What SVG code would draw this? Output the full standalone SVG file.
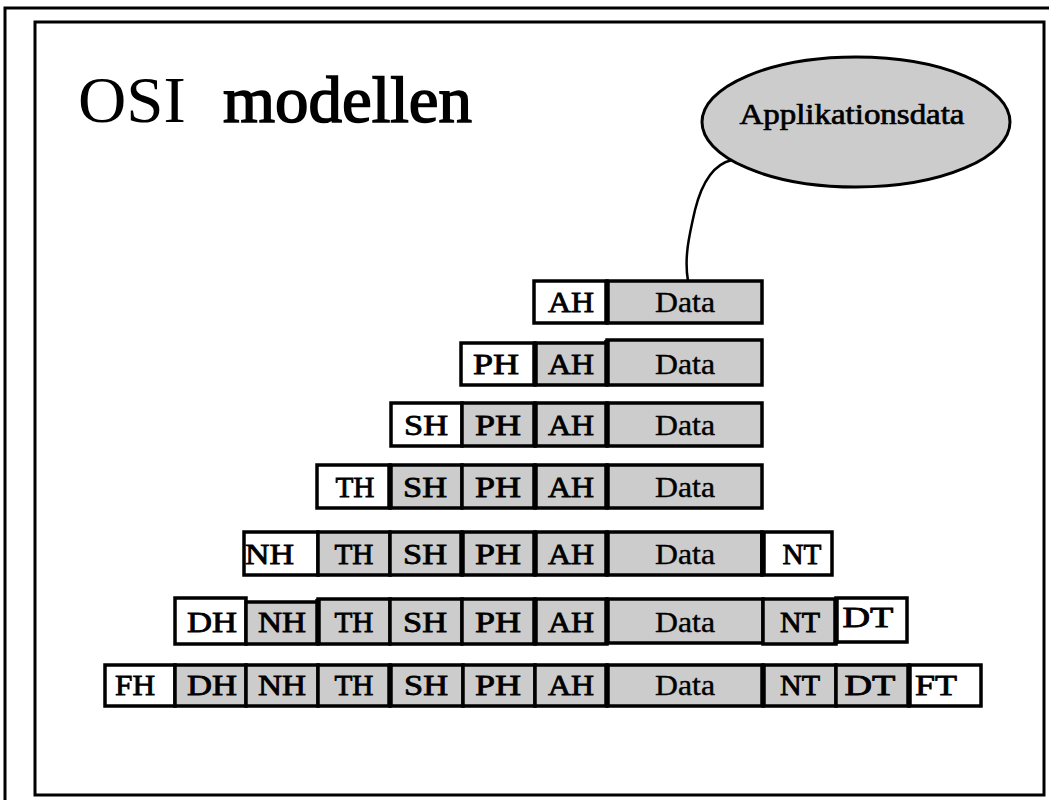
<svg xmlns="http://www.w3.org/2000/svg" width="1049" height="800" viewBox="0 0 1049 800">
  <style>
    .frame { fill: none; stroke: #000; stroke-width: 3; }
    .w { fill: #ffffff; stroke: #000; stroke-width: 3.5; }
    .g { fill: #cccccc; stroke: #000; stroke-width: 3.5; }
    .thick { fill: none; stroke: #000; stroke-width: 5.5; }
    .lbl { font-family: "Liberation Serif", "Times New Roman", serif; font-size: 29px; text-anchor: middle; fill: #000; stroke: #000; stroke-width: 0.8; }
    .lbl-l { font-family: "Liberation Serif", "Times New Roman", serif; font-size: 29px; text-anchor: start; fill: #000; stroke: #000; stroke-width: 0.8; }
    .data { stroke-width: 0.4; }
    .title { font-family: "Liberation Serif", "Times New Roman", serif; font-size: 65px; fill: #000; }
    .heavy { stroke: #000; stroke-width: 1.6; }
    .bubble-text { font-family: "Liberation Serif", "Times New Roman", serif; font-size: 29px; text-anchor: middle; fill: #000; stroke: #000; stroke-width: 0.7; }
    .wire { fill: none; stroke: #000; stroke-width: 2.5; }
  </style>

  <rect width="1049" height="800" fill="#ffffff"/>

  <!-- slide frames -->
  <rect class="frame" x="5" y="8" width="1060" height="810"/>
  <rect class="frame" x="35" y="22" width="1009" height="773"/>

  <!-- title -->
  <text class="title" x="78" y="122" textLength="394" lengthAdjust="spacingAndGlyphs" word-spacing="20">OSI <tspan class="heavy">modellen</tspan></text>

  <!-- speech bubble -->
  <g id="applikationsdata">
    <ellipse cx="856" cy="122" rx="154" ry="65" fill="#cccccc" stroke="#000" stroke-width="3"/>
    <text class="bubble-text" x="852" y="124" textLength="225" lengthAdjust="spacingAndGlyphs">Applikationsdata</text>
  </g>

  <!-- connectors -->
  <g id="connectors">
    <path class="wire" d="M732,160 C714,164 702,182 695,210 C689,236 684,258 688,281"/>
  </g>

  <!-- layer 7: application -->
  <g id="row-application">
    <g id="r1-ah"><rect class="w" x="534" y="281" width="73" height="42"/><text class="lbl" x="571" y="312" textLength="46" lengthAdjust="spacingAndGlyphs">AH</text></g>
    <g id="r1-data"><rect class="g" x="607" y="281" width="155" height="42"/><text class="lbl data" x="685" y="312" textLength="60" lengthAdjust="spacingAndGlyphs">Data</text></g>
    <path class="thick" d="M607,281V323"/>
  </g>

  <!-- layer 6: presentation -->
  <g id="row-presentation">
    <g id="r2-ph"><rect class="w" x="461" y="343" width="74" height="42"/><text class="lbl" x="496" y="374" textLength="46" lengthAdjust="spacingAndGlyphs">PH</text></g>
    <g id="r2-ah"><rect class="g" x="535" y="343" width="72" height="42"/><text class="lbl" x="571" y="374" textLength="46" lengthAdjust="spacingAndGlyphs">AH</text></g>
    <g id="r2-data"><rect class="g" x="607" y="340" width="155" height="45"/><text class="lbl data" x="685" y="374" textLength="60" lengthAdjust="spacingAndGlyphs">Data</text></g>
    <path class="thick" d="M535,343V385 M607,340V385"/>
  </g>

  <!-- layer 5: session -->
  <g id="row-session">
    <g id="r3-sh"><rect class="w" x="391" y="403" width="71" height="43"/><text class="lbl" x="426" y="435" textLength="44" lengthAdjust="spacingAndGlyphs">SH</text></g>
    <g id="r3-ph"><rect class="g" x="462" y="403" width="73" height="43"/><text class="lbl" x="498" y="435" textLength="46" lengthAdjust="spacingAndGlyphs">PH</text></g>
    <g id="r3-ah"><rect class="g" x="535" y="403" width="72" height="43"/><text class="lbl" x="571" y="435" textLength="46" lengthAdjust="spacingAndGlyphs">AH</text></g>
    <g id="r3-data"><rect class="g" x="607" y="403" width="155" height="43"/><text class="lbl data" x="685" y="435" textLength="60" lengthAdjust="spacingAndGlyphs">Data</text></g>
    <path class="thick" d="M535,403V446 M607,403V446"/>
  </g>

  <!-- layer 4: transport -->
  <g id="row-transport">
    <g id="r4-th"><rect class="w" x="317" y="465" width="73" height="43"/><text class="lbl" x="355" y="497" textLength="39" lengthAdjust="spacingAndGlyphs">TH</text></g>
    <g id="r4-sh"><rect class="g" x="390" y="465" width="72" height="43"/><text class="lbl" x="425" y="497" textLength="44" lengthAdjust="spacingAndGlyphs">SH</text></g>
    <g id="r4-ph"><rect class="g" x="462" y="465" width="73" height="43"/><text class="lbl" x="498" y="497" textLength="46" lengthAdjust="spacingAndGlyphs">PH</text></g>
    <g id="r4-ah"><rect class="g" x="535" y="465" width="72" height="43"/><text class="lbl" x="571" y="497" textLength="46" lengthAdjust="spacingAndGlyphs">AH</text></g>
    <g id="r4-data"><rect class="g" x="607" y="465" width="155" height="43"/><text class="lbl data" x="685" y="497" textLength="60" lengthAdjust="spacingAndGlyphs">Data</text></g>
    <path class="thick" d="M390,465V508 M535,465V508 M607,465V508"/>
  </g>

  <!-- layer 3: network -->
  <g id="row-network">
    <g id="r5-nh"><rect class="w" x="244" y="532" width="74" height="43"/><text class="lbl-l" x="245" y="564" textLength="49" lengthAdjust="spacingAndGlyphs">NH</text></g>
    <g id="r5-th"><rect class="g" x="318" y="532" width="72" height="43"/><text class="lbl" x="354" y="564" textLength="39" lengthAdjust="spacingAndGlyphs">TH</text></g>
    <g id="r5-sh"><rect class="g" x="390" y="532" width="72" height="43"/><text class="lbl" x="425" y="564" textLength="44" lengthAdjust="spacingAndGlyphs">SH</text></g>
    <g id="r5-ph"><rect class="g" x="462" y="532" width="73" height="43"/><text class="lbl" x="498" y="564" textLength="46" lengthAdjust="spacingAndGlyphs">PH</text></g>
    <g id="r5-ah"><rect class="g" x="535" y="532" width="72" height="43"/><text class="lbl" x="571" y="564" textLength="46" lengthAdjust="spacingAndGlyphs">AH</text></g>
    <g id="r5-data"><rect class="g" x="607" y="532" width="155" height="43"/><text class="lbl data" x="685" y="564" textLength="60" lengthAdjust="spacingAndGlyphs">Data</text></g>
    <g id="r5-nt"><rect class="w" x="762" y="532" width="70" height="43"/><text class="lbl" x="802" y="564" textLength="39" lengthAdjust="spacingAndGlyphs">NT</text></g>
    <path class="thick" d="M462,532V575 M535,532V575 M607,532V575 M763,532V575"/>
  </g>

  <!-- layer 2: data link -->
  <g id="row-datalink">
    <g id="r6-dh"><rect class="w" x="175" y="598" width="71" height="46"/><text class="lbl" x="212" y="632" textLength="50" lengthAdjust="spacingAndGlyphs">DH</text></g>
    <g id="r6-nh"><rect class="g" x="246" y="602" width="72" height="42"/><text class="lbl" x="282" y="632" textLength="48" lengthAdjust="spacingAndGlyphs">NH</text></g>
    <g id="r6-th"><rect class="g" x="318" y="599" width="72" height="45"/><text class="lbl" x="354" y="632" textLength="39" lengthAdjust="spacingAndGlyphs">TH</text></g>
    <g id="r6-sh"><rect class="g" x="390" y="599" width="72" height="45"/><text class="lbl" x="425" y="632" textLength="44" lengthAdjust="spacingAndGlyphs">SH</text></g>
    <g id="r6-ph"><rect class="g" x="462" y="599" width="73" height="45"/><text class="lbl" x="498" y="632" textLength="46" lengthAdjust="spacingAndGlyphs">PH</text></g>
    <g id="r6-ah"><rect class="g" x="535" y="599" width="72" height="45"/><text class="lbl" x="571" y="632" textLength="46" lengthAdjust="spacingAndGlyphs">AH</text></g>
    <g id="r6-data"><rect class="g" x="607" y="599" width="156" height="44"/><text class="lbl data" x="685" y="632" textLength="60" lengthAdjust="spacingAndGlyphs">Data</text></g>
    <g id="r6-nt"><rect class="g" x="763" y="599" width="73" height="45"/><text class="lbl" x="800" y="632" textLength="40" lengthAdjust="spacingAndGlyphs">NT</text></g>
    <g id="r6-dt"><rect class="w" x="836" y="598" width="71" height="44"/><text class="lbl" x="868" y="627" textLength="51" lengthAdjust="spacingAndGlyphs">DT</text></g>
    <path class="thick" d="M318,599V644 M535,599V644 M607,599V644 M836,598V644"/>
  </g>

  <!-- layer 1: physical -->
  <g id="row-physical">
    <g id="r7-fh"><rect class="w" x="105" y="665" width="70" height="41"/><text class="lbl" x="135" y="695" textLength="40" lengthAdjust="spacingAndGlyphs">FH</text></g>
    <g id="r7-dh"><rect class="g" x="175" y="665" width="71" height="41"/><text class="lbl" x="212" y="695" textLength="50" lengthAdjust="spacingAndGlyphs">DH</text></g>
    <g id="r7-nh"><rect class="g" x="246" y="665" width="72" height="41"/><text class="lbl" x="282" y="695" textLength="48" lengthAdjust="spacingAndGlyphs">NH</text></g>
    <g id="r7-th"><rect class="g" x="318" y="665" width="72" height="41"/><text class="lbl" x="354" y="695" textLength="39" lengthAdjust="spacingAndGlyphs">TH</text></g>
    <g id="r7-sh"><rect class="g" x="390" y="665" width="73" height="41"/><text class="lbl" x="426" y="695" textLength="44" lengthAdjust="spacingAndGlyphs">SH</text></g>
    <g id="r7-ph"><rect class="g" x="463" y="665" width="72" height="41"/><text class="lbl" x="498" y="695" textLength="46" lengthAdjust="spacingAndGlyphs">PH</text></g>
    <g id="r7-ah"><rect class="g" x="535" y="665" width="72" height="41"/><text class="lbl" x="571" y="695" textLength="46" lengthAdjust="spacingAndGlyphs">AH</text></g>
    <g id="r7-data"><rect class="g" x="607" y="665" width="156" height="41"/><text class="lbl data" x="685" y="695" textLength="60" lengthAdjust="spacingAndGlyphs">Data</text></g>
    <g id="r7-nt"><rect class="g" x="763" y="665" width="73" height="41"/><text class="lbl" x="800" y="695" textLength="40" lengthAdjust="spacingAndGlyphs">NT</text></g>
    <g id="r7-dt"><rect class="g" x="836" y="665" width="73" height="41"/><text class="lbl" x="870" y="695" textLength="51" lengthAdjust="spacingAndGlyphs">DT</text></g>
    <g id="r7-ft"><rect class="w" x="909" y="665" width="72" height="41"/><text class="lbl" x="936" y="695" textLength="42" lengthAdjust="spacingAndGlyphs">FT</text></g>
    <path class="thick" d="M390,665V706 M607,665V706 M763,665V706 M909,665V706"/>
  </g>
</svg>
